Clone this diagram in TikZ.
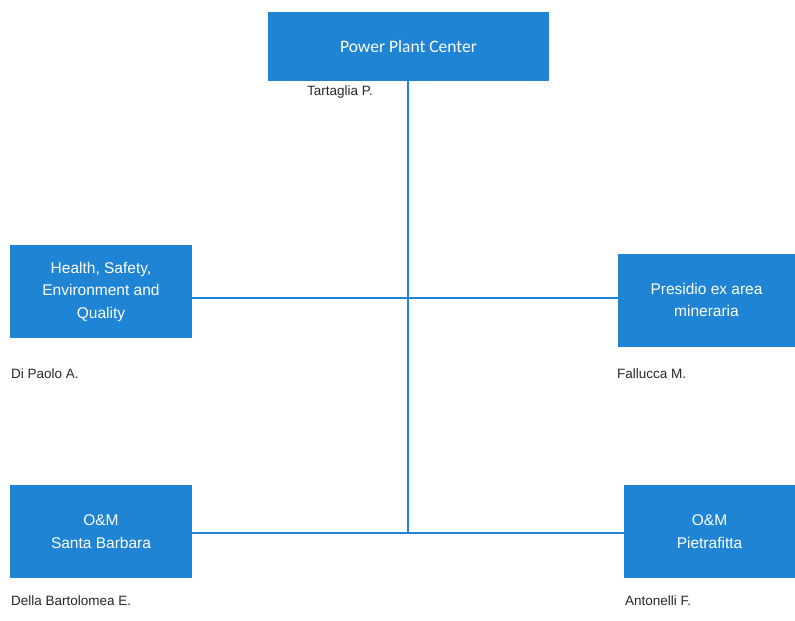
\documentclass[tikz,border=0pt]{standalone}
\usepackage{fontspec}
\setmainfont{Liberation Sans}
\newfontfamily\calfont{Carlito}
\definecolor{orgblue}{RGB}{31,132,212}
\begin{document}
\begin{tikzpicture}[x=1pt,y=-1pt,
  unitbox/.style={fill=orgblue, draw=none, text=white, align=center, inner sep=0pt, font=\fontsize{15.5}{22.5}\selectfont},
  person/.style={anchor=west, inner sep=0pt, text=black!85, font=\fontsize{13.5}{16}\selectfont},
  link/.style={draw=orgblue, line width=2pt}]
\useasboundingbox (0,0) rectangle (795,621);
\node[unitbox, minimum width=281pt, minimum height=69pt, font=\calfont\fontsize{17.5}{20}\selectfont] (ppc) at (408.5,46.5) {Power Plant Center};
\node[unitbox, minimum width=182pt, minimum height=93pt] (hseq) at (101,291.5) {Health, Safety,\\Environment and\\Quality};
\node[unitbox, minimum width=177pt, minimum height=93pt] (pres) at (706.5,300) {Presidio ex area\\mineraria};
\node[unitbox, minimum width=182pt, minimum height=93pt] (omsb) at (101,531.5) {O\&M\\Santa Barbara};
\node[unitbox, minimum width=171pt, minimum height=93pt] (ompf) at (709.5,531.5) {O\&M\\Pietrafitta};
\node[person] (tart) at (307,92) {Tartaglia P.};
\node[person] (dipa) at (11,374) {Di Paolo A.};
\node[person] (fall) at (617,374) {Fallucca M.};
\node[person] (debe) at (11,601) {Della Bartolomea E.};
\node[person] (anto) at (625,601) {Antonelli F.};
\coordinate (jbot) at (408,533);
\draw[link] (ppc.south -| jbot) -- (jbot);
\draw[link] (hseq.east |- 0,298) -- (pres.west |- 0,298);
\draw[link] (omsb.east |- jbot) -- (ompf.west |- jbot);
\end{tikzpicture}
\end{document}
